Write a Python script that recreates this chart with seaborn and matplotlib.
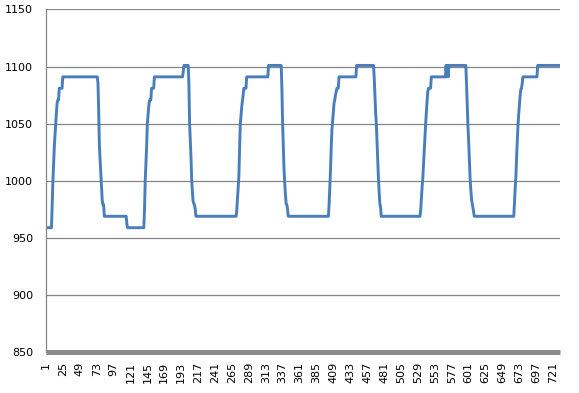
import numpy as np
import pandas as pd
import matplotlib
matplotlib.use("Agg")
import matplotlib.pyplot as plt
import seaborn as sns

# Run-length encoded series: value level and how many consecutive points
levels = [959, 980, 1000, 1015, 1030, 1040, 1050, 1060, 1068, 1071, 1081, 1091,
          1085, 1060, 1030, 1018, 1005, 993, 983, 979, 969, 962, 959,
          975, 1000, 1015, 1030, 1050, 1058, 1065, 1070, 1071, 1081, 1091, 1096, 1101,
          1085, 1050, 1035, 1020, 1000, 990, 982, 980, 979, 975, 969,
          975, 985, 995, 1005, 1030, 1050, 1058, 1065, 1070, 1075, 1081, 1091, 1101,
          1080, 1050, 1030, 1010, 998, 988, 980, 979, 975, 969,
          980, 995, 1010, 1030, 1045, 1053, 1060, 1068, 1071, 1075, 1078, 1081, 1091, 1101,
          1090, 1075, 1060, 1050, 1035, 1018, 1002, 990, 980, 977, 969,
          975, 985, 995, 1003, 1015, 1028, 1040, 1050, 1060, 1070, 1078, 1081, 1091,
          1101, 1091, 1101, 1091, 1101,
          1085, 1065, 1048, 1035, 1018, 1003, 993, 985, 980, 977, 973, 969,
          980, 993, 1003, 1020, 1035, 1048, 1058, 1066, 1074, 1080, 1081, 1085, 1091, 1101]
counts = [9, 1, 1, 1, 1, 1, 1, 1, 1, 2, 5, 50,
          1, 1, 1, 1, 1, 1, 1, 2, 32, 1, 24,
          1, 1, 1, 1, 1, 1, 1, 1, 2, 4, 41, 1, 7,
          1, 1, 1, 1, 1, 1, 1, 1, 1, 1, 58,
          1, 1, 1, 1, 1, 1, 1, 1, 1, 1, 4, 31, 19,
          1, 1, 1, 1, 1, 1, 1, 1, 1, 58,
          1, 1, 1, 1, 1, 1, 1, 1, 1, 1, 1, 3, 25, 25,
          1, 1, 1, 1, 1, 1, 1, 1, 1, 1, 56,
          1, 1, 1, 1, 1, 1, 1, 1, 1, 1, 1, 4, 21,
          1, 1, 1, 1, 25,
          1, 1, 1, 1, 1, 1, 1, 1, 1, 1, 1, 57,
          1, 1, 1, 1, 1, 1, 1, 1, 1, 1, 1, 1, 21, 32]

values = np.repeat(levels, counts)
categories = np.arange(1, len(values) + 1)
tick_labels = list(range(1, 722, 24))
y_ticks = [850, 900, 950, 1000, 1050, 1100, 1150]

df = pd.DataFrame({"cat": categories, "val": values})

sns.set_style("white")
plt.rcParams['font.family'] = ['DejaVu Sans']

fig = plt.figure(figsize=(5.79, 3.93), dpi=100)
ax = fig.add_axes([0.0786, 0.1036, 0.967 - 0.0786, 0.976 - 0.1036])

sns.lineplot(data=df, x="cat", y="val", ax=ax, color="#4A7EBB", linewidth=2.1)

ax.set_xlim(0.5, len(values) + 0.5)
ax.set_ylim(850, 1150)
ax.set_yticks(y_ticks)
ax.set_yticklabels([str(v) for v in y_ticks], fontsize=8)
ax.set_xticks(tick_labels)
ax.set_xticklabels([str(v) for v in tick_labels], rotation=90, fontsize=8)
ax.set_xlabel("")
ax.set_ylabel("")

ax.yaxis.grid(True, color="#868686", linewidth=0.9)
ax.xaxis.grid(False)
ax.set_axisbelow(True)

for s in ["top", "right"]:
    ax.spines[s].set_visible(False)
ax.spines["left"].set_color("#868686")
ax.spines["left"].set_linewidth(0.9)
ax.spines["bottom"].set_color("#8C8C8C")
ax.spines["bottom"].set_linewidth(3.6)
ax.spines["bottom"].set_capstyle("butt")
ax.spines["bottom"].set_zorder(3)

ax.tick_params(axis="y", which="major", length=5, width=0.9, color="#868686", pad=4, labelcolor="black")
ax.tick_params(axis="x", which="major", length=0, pad=7, labelcolor="black")

fig.savefig("out.png", dpi=100)
